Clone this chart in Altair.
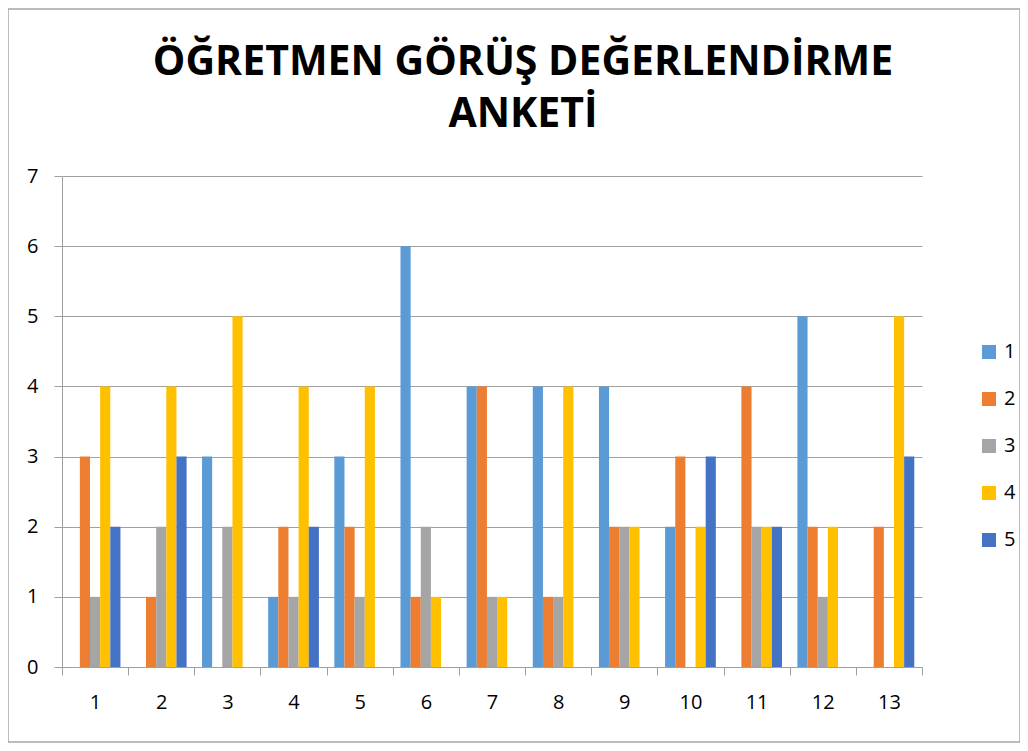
import altair as alt
import pandas as pd

categories = [str(i) for i in range(1, 14)]
series_names = ["1", "2", "3", "4", "5"]
s1 = [0, 0, 3, 1, 3, 6, 4, 4, 4, 2, 0, 5, 0]
s2 = [3, 1, 0, 2, 2, 1, 4, 1, 2, 3, 4, 2, 2]
s3 = [1, 2, 2, 1, 1, 2, 1, 1, 2, 0, 2, 1, 0]
s4 = [4, 4, 5, 4, 4, 1, 1, 4, 2, 2, 2, 2, 5]
s5 = [2, 3, 0, 2, 0, 0, 0, 0, 0, 3, 2, 0, 3]
colors = ["#5B9BD5", "#ED7D31", "#A5A5A5", "#FFC000", "#4472C4"]
title_line1 = "ÖĞRETMEN GÖRÜŞ DEĞERLENDİRME"
title_line2 = "ANKETİ"

rows = []
for name, vals in zip(series_names, [s1, s2, s3, s4, s5]):
    for c, v in zip(categories, vals):
        rows.append({"cat": c, "series": name, "value": v})
df = pd.DataFrame(rows)

FONT = "Open Sans"
GRID = "#a0a0a0"

bars = alt.Chart(df).mark_bar().encode(
    x=alt.X("cat:N", sort=categories, title=None,
            scale=alt.Scale(paddingInner=0, paddingOuter=0),
            axis=alt.Axis(labelAngle=0, tickBand="extent", tickSize=8,
                          labelPadding=17, labelFontSize=20, labelFont=FONT,
                          labelColor="#000", domainColor=GRID, tickColor=GRID,
                          grid=False)),
    xOffset=alt.XOffset("series:N", sort=series_names,
                        scale=alt.Scale(paddingOuter=0.76, paddingInner=0)),
    y=alt.Y("value:Q", title=None,
            scale=alt.Scale(domain=[0, 7], nice=False),
            axis=alt.Axis(values=list(range(8)), tickSize=8, labelPadding=16,
                          labelFontSize=20, labelFont=FONT, labelColor="#000",
                          domainColor=GRID, tickColor=GRID, gridColor=GRID,
                          gridOpacity=1)),
    color=alt.Color("series:N", sort=series_names,
                    scale=alt.Scale(domain=series_names, range=colors),
                    legend=alt.Legend(title=None, orient="none", legendX=917,
                                      legendY=166, symbolType="square",
                                      symbolSize=196, symbolStrokeWidth=0,
                                      labelFontSize=20, labelFont=FONT,
                                      labelColor="#000", rowPadding=27,
                                      labelOffset=5)),
)

border = alt.Chart(pd.DataFrame({"a": [0]})).mark_rect(
    fill=None, stroke="#a6a6a6", strokeWidth=1.5
).encode(x=alt.value(-54), x2=alt.value(958), y=alt.value(-167), y2=alt.value(566))

def title_text(line, ypos):
    return alt.Chart(pd.DataFrame({"line": [line]})).mark_text(
        font=FONT, fontSize=41, fontWeight="bold", color="#000",
        align="center", baseline="alphabetic"
    ).encode(text="line:N", x=alt.value(461), y=alt.value(ypos))

t1 = title_text(title_line1, -101)
t2 = title_text(title_line2, -49)

chart = alt.layer(border, t1, t2, bars).properties(
    width=860, height=491,
    autosize=alt.AutoSizeParams(type="none"),
    padding={"left": 54, "top": 168, "right": 98, "bottom": 76},
).configure_view(stroke=None)

chart.save("out.html", embed_options={"renderer": "svg", "actions": False})
